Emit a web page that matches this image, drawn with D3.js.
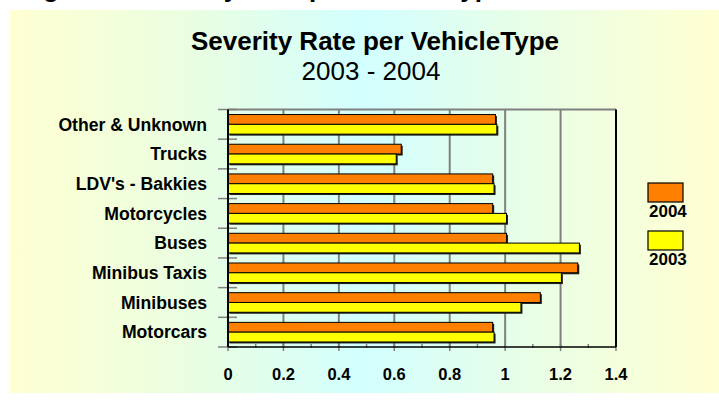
<!DOCTYPE html>
<html>
<head>
<meta charset="utf-8">
<script src="https://cdn.jsdelivr.net/npm/d3@7"></script>
<style>
  html, body { margin: 0; padding: 0; background: #fff; }
  svg { display: block; font-family: "Liberation Sans", Arial, sans-serif; }
</style>
</head>
<body>
<div id="chart"></div>
<script>
// Severity rate per vehicle type, 2003 vs 2004.
const categories = ["Other & Unknown", "Trucks", "LDV's - Bakkies", "Motorcycles", "Buses", "Minibus Taxis", "Minibuses", "Motorcars"];
const values2004 = [0.965, 0.625, 0.955, 0.955, 1.005, 1.262, 1.127, 0.955];
const values2003 = [0.970, 0.607, 0.960, 1.005, 1.268, 1.203, 1.057, 0.960];
const seriesNames = ["2004", "2003"];
const seriesColors = ["#ff8000", "#ffff00"];
const xTicks = [0, 0.2, 0.4, 0.6, 0.8, 1, 1.2, 1.4];

const W = 719, H = 406;
const svg = d3.select("#chart").append("svg").attr("width", W).attr("height", H);

// backdrop panel with the yellow-cyan-yellow wash
const defs = svg.append("defs");
const bg = defs.append("linearGradient").attr("id", "bgGrad")
  .attr("x1", "0").attr("y1", "0").attr("x2", "1").attr("y2", "0");
bg.append("stop").attr("offset", "0%").attr("stop-color", "#ffffd2");
bg.append("stop").attr("offset", "25%").attr("stop-color", "#eafee0");
bg.append("stop").attr("offset", "50%").attr("stop-color", "#d2ffff");
bg.append("stop").attr("offset", "75%").attr("stop-color", "#eafee4");
bg.append("stop").attr("offset", "100%").attr("stop-color", "#ffffd2");
svg.append("rect").attr("x", 10).attr("y", 10).attr("width", W - 10).attr("height", 383).attr("fill", "url(#bgGrad)");

// slide heading, cut off by the top edge (only descenders peek in)
svg.append("text").attr("x", 20).attr("y", -3).attr("font-size", 26).attr("font-weight", "bold")
  .text("Figure 4: Severity Rate per VehicleType");

svg.append("text").attr("x", 375).attr("y", 50).attr("text-anchor", "middle")
  .attr("font-size", 26).attr("font-weight", "bold").text("Severity Rate per VehicleType");
svg.append("text").attr("x", 371).attr("y", 80).attr("text-anchor", "middle")
  .attr("font-size", 26).text("2003 - 2004");

const x = d3.scaleLinear().domain([0, 1.4]).range([228, 616]);
const y = d3.scaleBand().domain(categories).range([109.5, 347]).paddingInner(0.34).paddingOuter(0.17);
const ys = d3.scaleBand().domain(seriesNames).range([0, y.bandwidth()]);

// vertical gridlines + top frame
svg.append("g").selectAll("line").data(xTicks.filter(d => d > 0 && d < 1.4)).join("line")
  .attr("x1", d => x(d)).attr("x2", d => x(d)).attr("y1", 109.5).attr("y2", 347)
  .attr("stroke", "#808080").attr("stroke-width", 2);
svg.append("line").attr("x1", x(0)).attr("x2", x(1.4)).attr("y1", 109.5).attr("y2", 109.5)
  .attr("stroke", "#808080").attr("stroke-width", 2);

// category separator ticks across the value axis
const seps = d3.range(categories.length + 1).map(i => 109.5 + i * y.step());
svg.append("g").selectAll("line").data(seps).join("line")
  .attr("x1", 218).attr("x2", 237).attr("y1", d => d).attr("y2", d => d)
  .attr("stroke", "#808080").attr("stroke-width", 1.5);

// bottom ticks, major and minor
const minor = d3.range(0.1, 1.4, 0.2);
svg.append("g").selectAll("line").data(xTicks).join("line")
  .attr("x1", d => x(d)).attr("x2", d => x(d)).attr("y1", 343).attr("y2", 351)
  .attr("stroke", "#808080").attr("stroke-width", 1.5);
svg.append("g").selectAll("line").data(minor).join("line")
  .attr("x1", d => x(d)).attr("x2", d => x(d)).attr("y1", 344).attr("y2", 348)
  .attr("stroke", "#808080").attr("stroke-width", 1.5);

// bars with a small drop shadow
const rows = categories.map((c, i) => ({ cat: c, vals: [values2004[i], values2003[i]] }));
const gRow = svg.append("g").selectAll("g").data(rows).join("g")
  .attr("transform", d => `translate(0,${y(d.cat)})`);
gRow.selectAll("rect.sh").data(d => d.vals.map((v, j) => ({ v, s: seriesNames[j], j }))).join("rect")
  .attr("class", "sh")
  .attr("x", x(0) + 1.5).attr("y", d => ys(d.s) + 1.5)
  .attr("width", d => x(d.v) - x(0)).attr("height", ys.bandwidth())
  .attr("fill", "#222");
gRow.selectAll("rect.bar").data(d => d.vals.map((v, j) => ({ v, s: seriesNames[j], j }))).join("rect")
  .attr("class", "bar")
  .attr("x", x(0)).attr("y", d => ys(d.s))
  .attr("width", d => x(d.v) - x(0)).attr("height", ys.bandwidth())
  .attr("fill", d => seriesColors[d.j]).attr("stroke", "#000").attr("stroke-width", 1);

// axes frame
svg.append("line").attr("x1", x(0)).attr("x2", x(0)).attr("y1", 109.5).attr("y2", 347)
  .attr("stroke", "#000").attr("stroke-width", 2);
svg.append("line").attr("x1", x(1.4)).attr("x2", x(1.4)).attr("y1", 109.5).attr("y2", 347)
  .attr("stroke", "#000").attr("stroke-width", 2);
svg.append("line").attr("x1", x(0)).attr("x2", x(1.4)).attr("y1", 347).attr("y2", 347)
  .attr("stroke", "#000").attr("stroke-width", 1.5);

// category labels
svg.append("g").selectAll("text").data(categories).join("text")
  .attr("x", 207).attr("y", d => y(d) + y.bandwidth() / 2).attr("dy", "0.36em")
  .attr("text-anchor", "end").attr("font-size", 17.6).attr("font-weight", "bold").text(d => d);

// value tick labels
svg.append("g").selectAll("text").data(xTicks).join("text")
  .attr("x", d => x(d)).attr("y", 374).attr("dy", "0.36em")
  .attr("text-anchor", "middle").attr("font-size", 16.5).attr("font-weight", "bold")
  .text(d => d3.format("")(d));

// legend
const leg = svg.append("g").selectAll("g").data(seriesNames).join("g")
  .attr("transform", (d, i) => `translate(648,${183 + i * 48})`);
leg.append("rect").attr("width", 35).attr("height", 19)
  .attr("fill", (d, i) => seriesColors[i]).attr("stroke", "#000").attr("stroke-width", 1.2);
leg.append("text").attr("x", 1).attr("y", 34).attr("font-size", 17).attr("font-weight", "bold").text(d => d);
</script>
</body>
</html>
